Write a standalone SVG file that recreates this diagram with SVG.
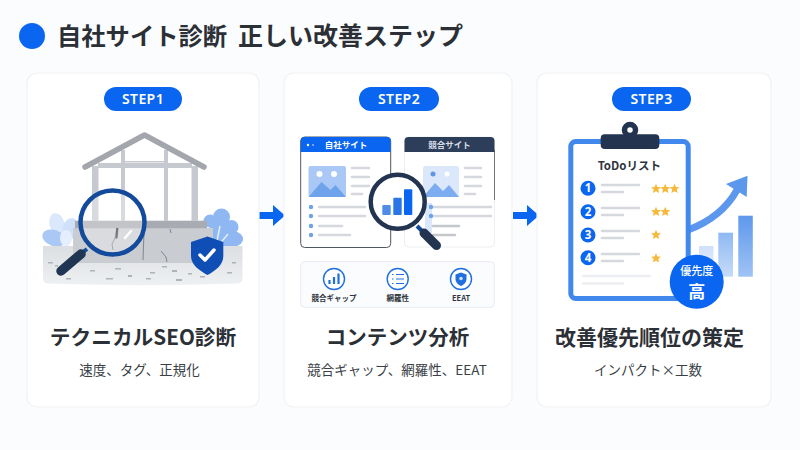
<svg xmlns="http://www.w3.org/2000/svg" width="800" height="450" viewBox="0 0 800 450">
<defs>
<style>
text{font-family:"Noto Sans CJK JP","Noto Sans",sans-serif}
.card{fill:#fff;stroke:#f0f2f5;stroke-width:1.2}
.pill{fill:#0a66f0}
.pt{fill:#fff;font-size:14px;font-weight:600;text-anchor:middle;font-family:"Noto Sans","Noto Sans CJK JP",sans-serif;letter-spacing:.4px}
.h{fill:#2b2f36;font-size:20.5px;font-weight:700;text-anchor:middle}
.s{fill:#3a3f47;font-size:13.5px;text-anchor:middle}
.wood{fill:#c6cad0}
.l{stroke:#d5d8dd;stroke-width:2.6;stroke-linecap:round;fill:none}
.lb{fill:#2f3540;font-size:7.500px;font-weight:700;text-anchor:middle}
.dot{fill:#6ea2ea}
.num{fill:#fff;font-size:11.500px;font-weight:700;text-anchor:middle;font-family:"Noto Sans",sans-serif}
.ic{fill:#fff;stroke:#1f6fe0;stroke-width:1.4}
.sp{fill:#aeb3b9}
</style>
<path id="a" d="M0-3.500H14V-10.500L26 0 14 10.500V3.500H0Z" fill="#0a66f0"/>
<path id="st" d="M0-4.800 1.400-1.500 5-1.200 2.300 1.100 3.100 4.600 0 2.800-3.100 4.600-2.300 1.100-5-1.200-1.400-1.500Z" fill="#f6b93b"/>
<linearGradient id="b1" x1="0" y1="0" x2="0" y2="1"><stop offset="0" stop-color="#cfe0fa"/><stop offset="1" stop-color="#eef4fd"/></linearGradient>
<linearGradient id="b2" x1="0" y1="0" x2="0" y2="1"><stop offset="0" stop-color="#8fb9f3"/><stop offset="1" stop-color="#c6dbf9"/></linearGradient>
<linearGradient id="b3" x1="0" y1="0" x2="0" y2="1"><stop offset="0" stop-color="#5f98ec"/><stop offset="1" stop-color="#9fc3f5"/></linearGradient>
<linearGradient id="gr" x1="0" y1="0" x2="0" y2="1"><stop offset="0" stop-color="#dcdfe2"/><stop offset="1" stop-color="#eef0f2"/></linearGradient>
</defs>
<rect width="800" height="450" fill="#fbfcfd"/>
<g id="header">
<circle cx="32" cy="36" r="13" fill="#0a66f0"/>
<text x="57" y="45" font-size="24.300" font-weight="700" fill="#2b2f36">自社サイト診断</text>
<text x="238" y="45" font-size="25" font-weight="700" fill="#2b2f36">正しい改善ステップ</text>
</g>
<g id="connectors">
<use href="#a" x="259" y="215.500"/>
<use href="#a" x="513" y="215.500"/>
</g>
<g id="step1">
<rect class="card" x="27" y="73" width="232" height="334" rx="10"/>
<rect class="pill" x="104" y="87" width="78" height="24" rx="12"/>
<text class="pt" x="143" y="104">STEP1</text>
<ellipse cx="57" cy="224" rx="7.500" ry="11" fill="#dbe8fb" transform="rotate(-15 57 224)"/>
<ellipse cx="70" cy="229" rx="7.500" ry="11" fill="#cfe0f9" transform="rotate(15 70 229)"/>
<ellipse cx="54" cy="238" rx="12" ry="8" fill="#a9c8f6" transform="rotate(20 54 238)"/>
<ellipse cx="66" cy="238" rx="6" ry="8" fill="#e4eefc"/>
<g fill="#8fb7f2"><circle cx="221.500" cy="217" r="8.500"/><circle cx="210" cy="221" r="6.500"/><circle cx="231.500" cy="227" r="7"/><circle cx="221" cy="232" r="12"/><circle cx="236.500" cy="239" r="6.500"/><rect x="208" y="232" width="30" height="14"/></g>
<path d="M216 246 220 226M218 246 228 234" stroke="#e4eefc" stroke-width="1.500" fill="none"/>
<path d="M43 246H242.500V278Q242.500 283 237 283.500 142 287 48 283.500 43 283 43 278Z" fill="url(#gr)"/>
<rect x="73" y="228" width="140" height="35" fill="#c9ccd1"/>
<rect x="75" y="220.700" width="132" height="7.500" fill="#a8abb1"/>
<g class="wood">
<rect x="92" y="166" width="6.500" height="55"/><rect x="191.500" y="166" width="6.500" height="55"/>
<rect x="121" y="150" width="4" height="71"/><rect x="164" y="150" width="4" height="71"/>
<rect x="98" y="163" width="94" height="5"/><rect x="125" y="161" width="39" height="1.500"/>
</g>
<path d="M85 167 144.500 135 204 167" fill="none" stroke="#a3a7ad" stroke-width="5.500" stroke-linecap="round" stroke-linejoin="round"/>
<g fill="none" stroke="#6e737a" stroke-width=".8"><path d="M117 228l-2 10-3 6 1 6"/><path d="M161 251l5 6 1 5"/><path d="M170 229l1 4M144 232l-1 28"/></g>
<path d="M116 228h2.500l-1 10-2 1Z" fill="#3a3f47"/>
<g class="sp"><rect x="90" y="270" width="5" height="1.500"/><rect x="115" y="268" width="6" height="1.500"/><rect x="128" y="275" width="4" height="2"/><rect x="150" y="272" width="5" height="1.500"/><rect x="172" y="270" width="5" height="2"/><rect x="188" y="273" width="4" height="1.500"/><rect x="66" y="278" width="5" height="1.500"/><rect x="106" y="278" width="7" height="1.500"/><rect x="146" y="278" width="5" height="1.500"/><rect x="176" y="279" width="6" height="2"/><rect x="200" y="276" width="5" height="1.500"/><rect x="232" y="262" width="4" height="1.500"/><rect x="227" y="272" width="5" height="1.500"/><rect x="48" y="262" width="5" height="1.500"/><rect x="55" y="265" width="3" height="1.500"/><rect x="162" y="266" width="5" height="1.500"/></g>
<circle cx="112.500" cy="222.500" r="32" fill="#fff" fill-opacity=".3" stroke="#134a9c" stroke-width="4.500"/>
<path d="M131 231l-6 7" stroke="#fff" stroke-width="2.500" stroke-linecap="round"/>
<path d="M87 249 82 253" stroke="#134a9c" stroke-width="4"/>
<path d="M81 254 61 271" stroke="#1f3553" stroke-width="9.500" stroke-linecap="round"/>
<path d="M207.500 236.500 223.300 242V256C223.300 265 215 271 207.500 275 200 271 191 265 191 256V242Z" fill="#0f4fb5"/>
<path d="M200 255l5 5 9-10" fill="none" stroke="#fff" stroke-width="3.500" stroke-linecap="round" stroke-linejoin="round"/>
<text class="h" x="143" y="345" style="font-size:20.700px">テクニカルSEO診断</text>
<text class="s" x="139.500" y="374.500">速度、タグ、正規化</text>
</g>
<g id="step2">
<rect class="card" x="284" y="73" width="228" height="334" rx="10"/>
<rect class="pill" x="359" y="87" width="80" height="24" rx="12"/>
<text class="pt" x="399" y="104">STEP2</text>
<rect x="404.500" y="137" width="90" height="110" rx="4" fill="#fff" stroke="#eceef1"/>
<path d="M494.500 150V200" stroke="#6e737a" stroke-width="1" fill="none"/>
<path d="M404.500 152V141a4 4 0 0 1 4-4H490.500a4 4 0 0 1 4 4V152Z" fill="#2c3e5a"/>
<text x="449.500" y="148" fill="#d8dde5" font-size="8.500" font-weight="700" text-anchor="middle">競合サイト</text>
<rect x="425" y="203" width="7" height="30" fill="#dbe8fb"/>
<rect x="423" y="166" width="36" height="31" rx="2" fill="#dbe8fb"/>
<circle cx="433" cy="174" r="2.500" fill="#5f95e6"/><circle cx="447" cy="174" r="2.500" fill="#fff"/>
<path d="M423 197l12-14 8 8 6-6 10 12Z" fill="#7eacf0"/>
<path class="l" d="M465 168h16M465 177h16M465 186h16M465 194h10M433 207h58M433 216h58"/>
<path class="l" d="M433 226h26M433 235h22" style="stroke:#c4c7cc"/>
<rect x="300.700" y="137" width="90" height="110.500" rx="4" fill="#fff" stroke="#4f5661" stroke-width="1"/>
<path d="M300.700 152V141a4 4 0 0 1 4-4H386.700a4 4 0 0 1 4 4V152Z" fill="#0a66f0"/>
<circle cx="308" cy="145" r="1.200" fill="#fff"/><circle cx="313" cy="145" r="1" fill="#8fb7f2"/>
<text x="346" y="148" fill="#fff" font-size="8.500" font-weight="700" text-anchor="middle">自社サイト</text>
<rect x="308.500" y="166" width="37.500" height="31" rx="2" fill="#a9c8f6"/>
<circle cx="319.500" cy="174" r="3" fill="#fff"/><circle cx="334" cy="174" r="3" fill="#fff"/>
<path d="M308.500 197l13-15 9 8 5-5 10.500 12Z" fill="#6ea2ea"/>
<path class="l" d="M352 168h17M352 177h17M352 186h17M352 194h10M319 207h46M319 216h46M319 226h23M319 235h31"/>
<g class="dot"><circle cx="311" cy="207" r="2.200"/><circle cx="311" cy="216" r="2.200"/><circle cx="311" cy="226" r="2.200"/><circle cx="311" cy="235" r="2.200"/></g>
<g class="dot"><circle cx="431" cy="207" r="2.200"/><circle cx="431" cy="216" r="2.200"/></g>
<circle cx="397.700" cy="201.700" r="27" fill="#fff" stroke="#22344f" stroke-width="4.500"/>
<rect x="382.300" y="205" width="8.400" height="10" rx="1" fill="#4f8ce8"/><rect x="393.300" y="197.700" width="8.400" height="17.300" rx="1" fill="#2a76e6"/><rect x="404" y="189.300" width="8.300" height="25.700" rx="1" fill="#0a66f0"/>
<path d="M417 226 422 231" stroke="#134a9c" stroke-width="4"/>
<path d="M424 233 436.500 245.500" stroke="#22344f" stroke-width="9" stroke-linecap="round"/>
<rect x="300.700" y="261.700" width="193.600" height="45.600" rx="4" fill="#fbfcfe" stroke="#e8ebf0"/>
<circle class="ic" cx="334" cy="279" r="10.500"/><path d="M329.500 280v4M334 277v7M338.500 273.500v10.500" stroke="#1f6fe0" stroke-width="2.200" fill="none"/>
<circle class="ic" cx="397.700" cy="279" r="10.500"/><path d="M392 274.500h1.500M392 279h1.500M392 283.500h1.500M396 274.500h8M396 279h8M396 283.500h8" stroke="#1f6fe0" stroke-width="1.200" fill="none"/>
<circle class="ic" cx="461" cy="279" r="10.500"/><path d="M461 272.500 466.500 274.500V279C466.500 282.500 464 284.500 461 286 458 284.500 455.500 282.500 455.500 279V274.500Z" fill="#1f6fe0"/><circle cx="461" cy="278.500" r="1.800" fill="#cfe0f9"/>
<text class="lb" x="334" y="300.500">競合ギャップ</text>
<text class="lb" x="397.700" y="300.500">網羅性</text>
<text class="lb" x="461" y="300.500">EEAT</text>
<text class="h" x="397.500" y="345">コンテンツ分析</text>
<text class="s" x="397" y="374.500">競合ギャップ、網羅性、EEAT</text>
</g>
<g id="step3">
<rect class="card" x="537" y="73" width="234" height="334" rx="10"/>
<rect class="pill" x="612" y="87" width="79" height="24" rx="12"/>
<text class="pt" x="651.500" y="104">STEP3</text>
<rect x="699" y="246" width="14.500" height="31" fill="url(#b1)"/><rect x="718.300" y="232.700" width="14.700" height="44" fill="url(#b2)"/><rect x="738.300" y="215.700" width="14.500" height="61" fill="url(#b3)"/>
<path d="M688 230C712 221 727 208 737 190" fill="none" stroke="#5b97ec" stroke-width="7"/>
<path d="M726 184 747.500 175.700 746.700 197Z" fill="#5b97ec"/>
<rect x="570.800" y="141.500" width="117.400" height="157" rx="5" fill="#fff" stroke="#4088ec" stroke-width="5"/>
<circle cx="630" cy="130" r="5.500" fill="#fff" stroke="#22344f" stroke-width="5.500"/>
<rect x="600.700" y="134.300" width="58.600" height="14.700" rx="4" fill="#22344f"/>
<text x="629.300" y="169.500" font-size="11.500" font-weight="700" fill="#2f3540" text-anchor="middle">ToDoリスト</text>
<g fill="#0a66f0"><circle cx="588" cy="188.300" r="7.500"/><circle cx="588" cy="211.700" r="7.500"/><circle cx="588" cy="235" r="7.500"/><circle cx="588" cy="257.700" r="7.500"/></g>
<text class="num" x="588" y="192.400">1</text><text class="num" x="588" y="215.800">2</text><text class="num" x="588" y="239.100">3</text><text class="num" x="588" y="261.800">4</text>
<path class="l" d="M602 185h37M602 192h21M602 208h37M602 215h21M602 231h37M602 238h21M602 254h37M602 261h21"/>
<path d="M583 276h67M583 283.500h40" stroke="#eceef1" stroke-width="2.500" stroke-linecap="round"/>
<use href="#st" x="656" y="188.500"/><use href="#st" x="665.300" y="188.500"/><use href="#st" x="674.500" y="188.500"/>
<use href="#st" x="656" y="211.500"/><use href="#st" x="665.300" y="211.500"/>
<use href="#st" x="656" y="234.500"/><use href="#st" x="656" y="258"/>
<circle cx="696.700" cy="281.700" r="27" fill="#0a66f0"/>
<text x="696.700" y="274.500" fill="#fff" font-size="11" font-weight="500" text-anchor="middle">優先度</text>
<text x="696.700" y="297.500" fill="#fff" font-size="17" font-weight="700" text-anchor="middle">高</text>
<text class="h" x="649.500" y="345" style="font-size:21px">改善優先順位の策定</text>
<text class="s" x="648" y="374.500">インパクト×工数</text>
</g>
</svg>
